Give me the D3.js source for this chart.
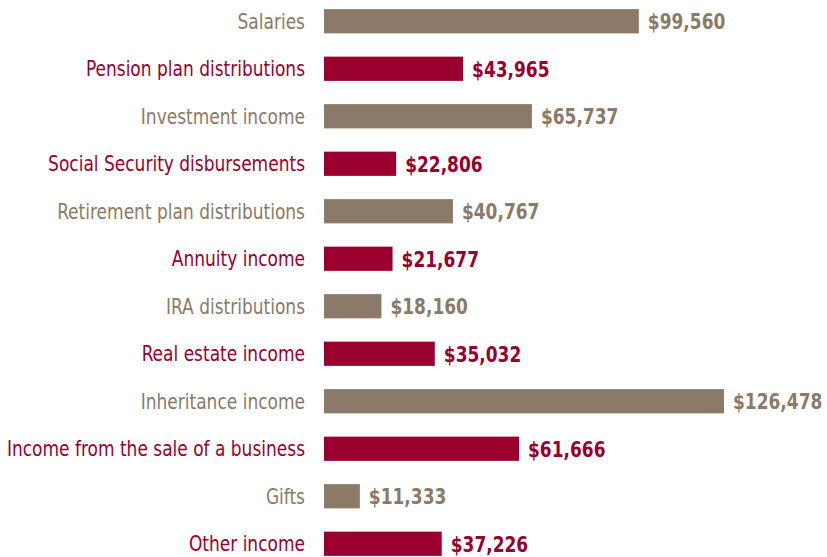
<!DOCTYPE html>
<html>
<head>
<meta charset="utf-8">
<script src="https://d3js.org/d3.v7.min.js"></script>
<style>
  body { margin: 0; background: #fff; }
  text { font-family: "DejaVu Sans", sans-serif; font-stretch: condensed; }
</style>
</head>
<body>
<div id="chart"></div>
<script>
const categories = [
  'Salaries',
  'Pension plan distributions',
  'Investment income',
  'Social Security disbursements',
  'Retirement plan distributions',
  'Annuity income',
  'IRA distributions',
  'Real estate income',
  'Inheritance income',
  'Income from the sale of a business',
  'Gifts',
  'Other income'
];
const values = [99560, 43965, 65737, 22806, 40767, 21677, 18160, 35032, 126478, 61666, 11333, 37226];

const width = 827, height = 557;
const taupe = '#8b7a67', crimson = '#990030';
const squeeze = 0.88; // narrow the glyphs, no condensed face installed

const svg = d3.select('#chart').append('svg')
  .attr('width', width)
  .attr('height', height);

const x = d3.scaleLinear()
  .domain([0, d3.max(values)])
  .range([324, 724]);

const y = d3.scaleBand()
  .domain(categories)
  .range([-2.5, 567.5])
  .paddingInner(0.49)
  .paddingOuter(0.245);

const data = categories.map((c, i) => ({ name: c, value: values[i], color: i % 2 ? crimson : taupe }));
const fmt = d3.format('$,');

const rows = svg.append('g')
  .selectAll('g')
  .data(data)
  .enter()
  .append('g');

rows.append('rect')
  .attr('x', x(0))
  .attr('y', d => y(d.name))
  .attr('width', d => x(d.value) - x(0))
  .attr('height', y.bandwidth())
  .attr('fill', d => d.color);

// category labels
rows.append('text')
  .attr('transform', d => `translate(305,${y(d.name) + y.bandwidth() / 2}) scale(${squeeze},1)`)
  .attr('dy', '.36em')
  .attr('text-anchor', 'end')
  .attr('font-size', 21.5)
  .attr('fill', d => d.color)
  .text(d => d.name);

// value labels
rows.append('text')
  .attr('transform', d => `translate(${x(d.value) + 9},${y(d.name) + y.bandwidth() / 2}) scale(0.86,1)`)
  .attr('dy', '.36em')
  .attr('font-size', 22)
  .attr('font-weight', 'bold')
  .attr('fill', d => d.color)
  .text(d => fmt(d.value));
</script>
</body>
</html>
